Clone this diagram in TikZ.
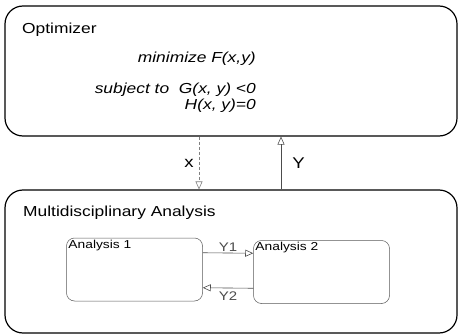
\documentclass[tikz,border=0pt]{standalone}
\usepackage{fontspec}
\setmainfont{Liberation Sans}[FakeStretch=1.2]
\usetikzlibrary{arrows.meta,positioning,calc}

\tikzset{
  outerbox/.style={draw, line width=1.2pt, rounded corners=18pt, inner sep=0pt},
  innerbox/.style={draw, gray!70!black, line width=0.5pt, rounded corners=8pt,
    minimum width=136pt, minimum height=63pt, inner sep=0pt},
  flow/.style={gray!60!black, line width=0.6pt, -{Triangle[open,length=8pt,width=7pt]}},
  lbl/.style={inner sep=1pt, font=\fontsize{14.5}{17}\selectfont},
  varlbl/.style={inner sep=1pt, font=\fontsize{15.5}{17}\selectfont},
  mathlbl/.style={inner sep=1pt, font=\fontsize{14.5}{17}\selectfont\itshape},
  smalllbl/.style={inner sep=1pt, font=\fontsize{11.5}{13}\selectfont},
  cpllbl/.style={inner sep=1pt, font=\fontsize{12.5}{14}\selectfont}
}

\begin{document}
\begin{tikzpicture}[x=1pt, y=-1pt]
  \useasboundingbox (0,0) rectangle (460,334);

  % Optimizer
  \node[outerbox, minimum width=452pt, minimum height=130pt] (opt) at (231,71) {};
  \node[lbl, anchor=base west] (opttitle) at (21,34) {Optimizer};
  \node[mathlbl, anchor=base east] (objective) at (257,63) {minimize F(x,y)};
  \node[mathlbl, anchor=base east] (constrg) at (257,94) {subject to\ \ G(x, y) <0};
  \node[mathlbl, anchor=base east] (constrh) at (257,110) {H(x, y)=0};

  % Multidisciplinary analysis
  \node[outerbox, minimum width=452pt, minimum height=143pt] (mda) at (231,261.5) {};
  \node[lbl, anchor=base west] (mdatitle) at (22,216) {Multidisciplinary Analysis};

  % Disciplines
  \node[innerbox] (ana1) at (134.5,269.5) {};
  \node[innerbox] (ana2) at (321.5,272) {};
  \node[smalllbl, anchor=north west, inner sep=2pt] (ana1lbl) at (ana1.north west) {Analysis 1};
  \node[smalllbl, anchor=north west, inner sep=2pt] (ana2lbl) at (ana2.north west) {Analysis 2};

  % Optimizer <-> analysis
  \coordinate (xpos) at (199,0);
  \coordinate (ypos) at (281,0);
  \draw[flow, dash pattern=on 3pt off 2pt, gray] (opt.south -| xpos) -- (mda.north -| xpos)
    node[midway, left=4pt, varlbl, black] {x};
  \draw[flow] (mda.north -| ypos) -- (opt.south -| ypos)
    node[midway, right=10pt, varlbl, black] {Y};

  % Coupling
  \draw[flow] ($(ana1.north east)+(0,15)$) -- ($(ana2.north west)+(0,13)$)
    node[midway, above=0pt, cpllbl] {Y1};
  \draw[flow] ($(ana2.north west)+(0,48)$) -- ($(ana1.north east)+(0,50)$)
    node[midway, below=2pt, cpllbl] {Y2};
\end{tikzpicture}
\end{document}
